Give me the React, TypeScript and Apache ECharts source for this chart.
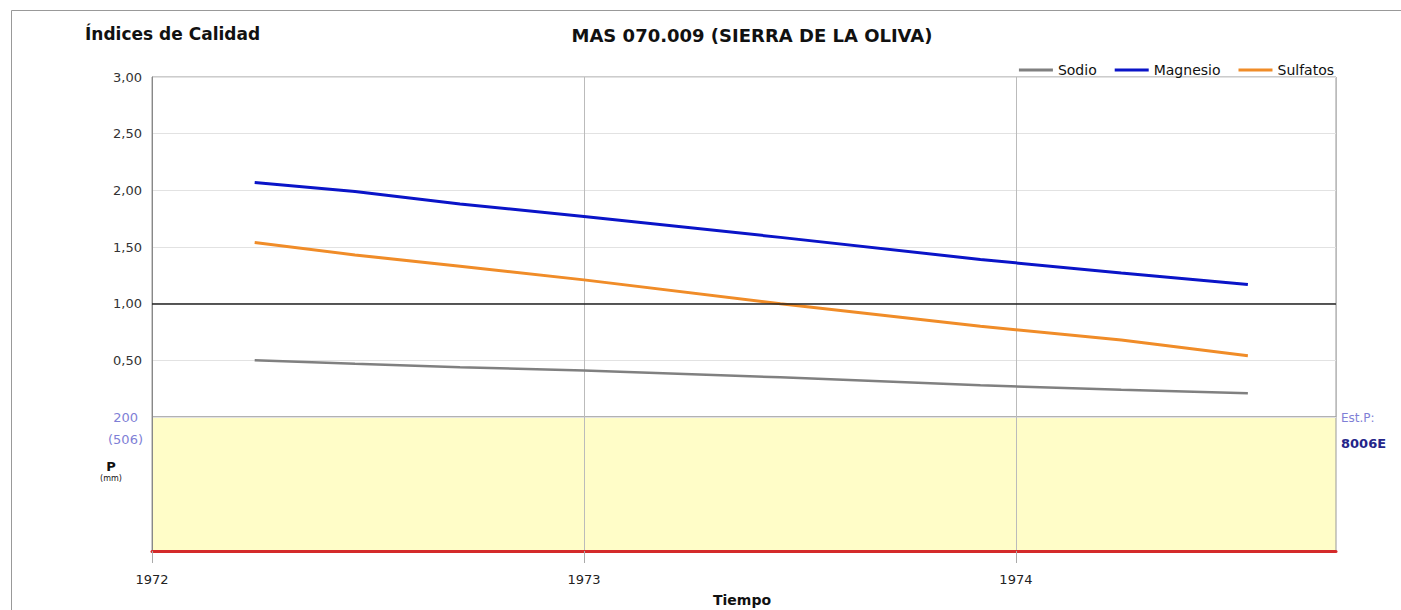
import React, { useEffect, useRef } from "react";
import * as echarts from "echarts";

const dates = ["1972-03-28", "1972-06-21", "1972-09-18", "1973-01-01", "1973-06-16", "1973-12-02", "1974-03-31", "1974-07-16"];
const sodio = [0.5, 0.47, 0.44, 0.41, 0.35, 0.28, 0.24, 0.21];
const magnesio = [2.07, 1.99, 1.88, 1.77, 1.585, 1.39, 1.27, 1.17];
const sulfatos = [1.54, 1.43, 1.33, 1.21, 1.0, 0.8, 0.68, 0.54];
const yearTicks = [1972, 1973, 1974];
const xMin = 1972;
const xMax = 1974.741;

function decimalYear(d: string): number {
  const dt = new Date(d + "T00:00:00Z");
  const y = dt.getUTCFullYear();
  const start = Date.UTC(y, 0, 1);
  const end = Date.UTC(y + 1, 0, 1);
  return y + (dt.getTime() - start) / (end - start);
}

const FONT = "DejaVu Sans";

export default function App() {
  const ref = useRef<HTMLDivElement>(null);
  useEffect(() => {
    if (!ref.current) return;
    const chart = echarts.init(ref.current, null, { renderer: "svg" });
    const mk = (vals: number[]) => dates.map((d, i) => [decimalYear(d), vals[i]]);
    chart.setOption({
      animation: false,
      backgroundColor: "#ffffff",
      textStyle: { fontFamily: FONT },
      legend: {
        data: ["Sodio", "Magnesio", "Sulfatos"],
        right: 62,
        top: 58,
        icon: "rect",
        itemWidth: 34,
        itemHeight: 3,
        itemGap: 18,
        textStyle: { fontFamily: FONT, fontSize: 14, color: "#111" },
      },
      grid: [
        { left: 152, top: 77, right: 65, height: 340, show: true, borderColor: "#999", borderWidth: 1, backgroundColor: "#fff" },
        { left: 152, top: 417, right: 65, height: 134, show: true, borderColor: "#999", borderWidth: 1, backgroundColor: "#fffdc8" },
      ],
      xAxis: [
        {
          type: "value", gridIndex: 0, min: xMin, max: xMax, interval: 1,
          axisLabel: { show: false }, axisTick: { show: false }, axisLine: { show: false },
          splitLine: { show: true, lineStyle: { color: "#bbb", width: 1 } },
        },
        {
          type: "value", gridIndex: 1, min: xMin, max: xMax, interval: 1,
          axisLine: { show: true, onZero: false, lineStyle: { color: "#d42a2a", width: 3 } },
          axisTick: { show: true, length: 12, customValues: yearTicks, lineStyle: { color: "#aaa" } },
          axisLabel: {
            show: true, margin: 22, color: "#222", fontSize: 13, fontFamily: FONT,
            customValues: yearTicks,
            formatter: (v: number) => (Number.isInteger(v) ? String(v) : ""),
          },
          splitLine: { show: true, lineStyle: { color: "#bbb", width: 1 } },
        },
      ],
      yAxis: [
        {
          type: "value", gridIndex: 0, min: 0, max: 3, interval: 0.5,
          axisLine: { show: true, lineStyle: { color: "#888" } },
          axisTick: { show: false },
          axisLabel: {
            color: "#333", fontSize: 13, fontFamily: FONT, margin: 10,
            formatter: (v: number) => (v === 0 ? "" : v.toFixed(2).replace(".", ",")),
          },
          splitLine: { show: true, lineStyle: { color: "#e2e2e2" } },
        },
        {
          type: "value", gridIndex: 1, min: 0, max: 200,
          axisLine: { show: true, lineStyle: { color: "#888" } },
          axisTick: { show: false }, axisLabel: { show: false }, splitLine: { show: false },
        },
      ],
      series: [
        {
          name: "Sodio", type: "line", xAxisIndex: 0, yAxisIndex: 0, showSymbol: false,
          data: mk(sodio), color: "#808080", lineStyle: { color: "#808080", width: 2.5 },
          markLine: {
            silent: true, symbol: "none", label: { show: false },
            lineStyle: { color: "#222", width: 1.5, type: "solid" },
            data: [{ yAxis: 1 }],
          },
        },
        {
          name: "Magnesio", type: "line", xAxisIndex: 0, yAxisIndex: 0, showSymbol: false,
          data: mk(magnesio), color: "#0a14c8", lineStyle: { color: "#0a14c8", width: 3 }, z: 3,
        },
        {
          name: "Sulfatos", type: "line", xAxisIndex: 0, yAxisIndex: 0, showSymbol: false,
          data: mk(sulfatos), color: "#f08c28", lineStyle: { color: "#f08c28", width: 3 }, z: 3,
        },
      ],
      graphic: [
        { type: "line", shape: { x1: 11.5, y1: 10.5, x2: 1401, y2: 10.5 }, style: { stroke: "#999", lineWidth: 1 } },
        { type: "line", shape: { x1: 11.5, y1: 10.5, x2: 11.5, y2: 610 }, style: { stroke: "#999", lineWidth: 1 } },
        { type: "text", x: 85, y: 34, style: { text: "Índices de Calidad", fontFamily: FONT, fontSize: 17, fontWeight: "bold", fill: "#111", textVerticalAlign: "middle" } },
        { type: "text", x: 752, y: 35, style: { text: "MAS 070.009 (SIERRA DE LA OLIVA)", fontFamily: FONT, fontSize: 18, fontWeight: "bold", fill: "#111", textAlign: "center", textVerticalAlign: "middle" } },
        { type: "text", x: 138, y: 417, style: { text: "200", fontFamily: FONT, fontSize: 13, fill: "#7f7fd6", textAlign: "right", textVerticalAlign: "middle" } },
        { type: "text", x: 143, y: 439, style: { text: "(506)", fontFamily: FONT, fontSize: 13, fill: "#7f7fd6", textAlign: "right", textVerticalAlign: "middle" } },
        { type: "text", x: 111, y: 466, style: { text: "P", fontFamily: FONT, fontSize: 13, fontWeight: "bold", fill: "#111", textAlign: "center", textVerticalAlign: "middle" } },
        { type: "text", x: 111, y: 478, style: { text: "(mm)", fontFamily: FONT, fontSize: 8, fill: "#111", textAlign: "center", textVerticalAlign: "middle" } },
        { type: "text", x: 1341, y: 418, style: { text: "Est.P:", fontFamily: FONT, fontSize: 12, fill: "#7f7fd6", textVerticalAlign: "middle" } },
        { type: "text", x: 1341, y: 443, style: { text: "8006E", fontFamily: FONT, fontSize: 13, fontWeight: "bold", fill: "#25258a", textVerticalAlign: "middle" } },
        { type: "text", x: 742, y: 600, style: { text: "Tiempo", fontFamily: FONT, fontSize: 14, fontWeight: "bold", fill: "#111", textAlign: "center", textVerticalAlign: "middle" } },
      ],
    });
    return () => chart.dispose();
  }, []);
  return <div ref={ref} style={{ position: "fixed", left: 0, top: 0, width: 1401, height: 610 }} />;
}
